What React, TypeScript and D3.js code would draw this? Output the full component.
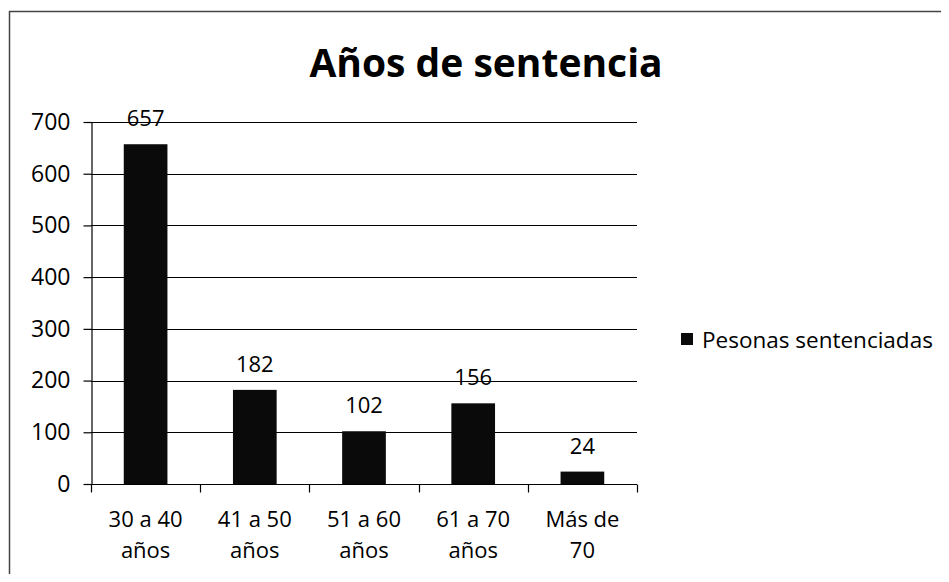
import { useEffect, useRef } from "react";
import * as d3 from "d3";

const categories = [["30 a 40", "años"], ["41 a 50", "años"], ["51 a 60", "años"], ["61 a 70", "años"], ["Más de", "70"]];
const values = [657, 182, 102, 156, 24];
const yTicks = [0, 100, 200, 300, 400, 500, 600, 700];
const seriesName = "Pesonas sentenciadas";
const title = "Años de sentencia";

const FONT = "'Open Sans', 'Noto Sans', sans-serif";

export default function App() {
  const svgRef = useRef<SVGSVGElement | null>(null);

  useEffect(() => {
    if (!svgRef.current) return;
    const svg = d3.select(svgRef.current);
    svg.selectAll("*").remove();

    const width = 949;
    const height = 582;
    const plot = { left: 91, right: 637, top: 122, bottom: 484 };

    svg.append("rect").attr("width", width).attr("height", height).attr("fill", "#fff");

    // chart frame (only top and left visible in the scan)
    svg.append("line").attr("x1", 9).attr("x2", width).attr("y1", 11.5).attr("y2", 11.5).attr("stroke", "#444").attr("stroke-width", 1.5);
    svg.append("line").attr("x1", 9.5).attr("x2", 9.5).attr("y1", 11).attr("y2", height).attr("stroke", "#444").attr("stroke-width", 1.5);

    const labels = categories.map((c) => c.join(" "));
    const x = d3.scaleBand<string>().domain(labels).range([plot.left, plot.right]).paddingInner(0.6).paddingOuter(0.3);
    const band = d3.scaleBand<string>().domain(labels).range([plot.left, plot.right]);
    const y = d3.scaleLinear().domain([0, 700]).range([plot.bottom, plot.top]);

    // gridlines
    svg
      .append("g")
      .selectAll("line")
      .data(yTicks.slice(1))
      .enter()
      .append("line")
      .attr("x1", plot.left)
      .attr("x2", plot.right)
      .attr("y1", (d) => Math.round(y(d)) + 0.5)
      .attr("y2", (d) => Math.round(y(d)) + 0.5)
      .attr("stroke", "#000")
      .attr("stroke-width", 1.2);

    // y axis
    svg
      .append("g")
      .attr("transform", `translate(${plot.left + 0.5},0)`)
      .call(d3.axisLeft(y).tickValues(yTicks).tickSize(8).tickPadding(13).tickSizeOuter(0))
      .call((g) => g.select(".domain").attr("stroke", "#000").attr("stroke-width", 1.2))
      .call((g) => g.selectAll("line").attr("stroke", "#000").attr("stroke-width", 1.2))
      .call((g) => g.selectAll("text").attr("fill", "#000").style("font-family", FONT).style("font-size", "23px"));

    // bars
    svg
      .append("g")
      .selectAll("rect")
      .data(values)
      .enter()
      .append("rect")
      .attr("x", (_, i) => x(labels[i]) ?? 0)
      .attr("y", (d) => y(d))
      .attr("width", x.bandwidth())
      .attr("height", (d) => plot.bottom - y(d))
      .attr("fill", "#0a0a0a");

    // x axis
    const xAxis = svg.append("g").attr("transform", `translate(0,${plot.bottom + 0.5})`);
    xAxis.append("line").attr("x1", plot.left).attr("x2", plot.right).attr("stroke", "#000").attr("stroke-width", 1.2);
    const edges = labels.map((l) => band(l) ?? 0).concat([plot.right]);
    xAxis
      .selectAll("line.tick")
      .data(edges)
      .enter()
      .append("line")
      .attr("class", "tick")
      .attr("x1", (d) => Math.round(d) + 0.5)
      .attr("x2", (d) => Math.round(d) + 0.5)
      .attr("y1", 0)
      .attr("y2", 8)
      .attr("stroke", "#000")
      .attr("stroke-width", 1.2);

    const catText = svg
      .append("g")
      .selectAll("text")
      .data(categories)
      .enter()
      .append("text")
      .attr("text-anchor", "middle")
      .attr("fill", "#000")
      .style("font-family", FONT)
      .style("font-size", "22px");
    catText
      .selectAll("tspan")
      .data((d, i) => d.map((line) => ({ line, i })))
      .enter()
      .append("tspan")
      .attr("x", (d) => (band(labels[d.i]) ?? 0) + band.bandwidth() / 2)
      .attr("y", (_, j) => 527 + j * 31)
      .text((d) => d.line);

    // value labels
    svg
      .append("g")
      .selectAll("text")
      .data(values)
      .enter()
      .append("text")
      .attr("x", (_, i) => (x(labels[i]) ?? 0) + x.bandwidth() / 2)
      .attr("y", (d) => y(d) - 18)
      .attr("text-anchor", "middle")
      .attr("fill", "#000")
      .style("font-family", FONT)
      .style("font-size", "22px")
      .text((d) => String(d));

    // title
    svg
      .append("text")
      .attr("x", 486)
      .attr("y", 77)
      .attr("text-anchor", "middle")
      .attr("fill", "#000")
      .style("font-family", FONT)
      .style("font-weight", "700")
      .style("font-size", "39px")
      .text(title);

    // legend
    const legend = svg.append("g").attr("transform", "translate(681,333)");
    legend.append("rect").attr("width", 12).attr("height", 12).attr("fill", "#0a0a0a");
    legend
      .append("text")
      .attr("x", 21)
      .attr("y", 15)
      .attr("fill", "#000")
      .style("font-family", FONT)
      .style("font-size", "22.5px")
      .text(seriesName);
  }, []);

  return (
    <div style={{ margin: -8 }}>
      <svg ref={svgRef} width={949} height={582} style={{ display: "block" }} />
    </div>
  );
}
